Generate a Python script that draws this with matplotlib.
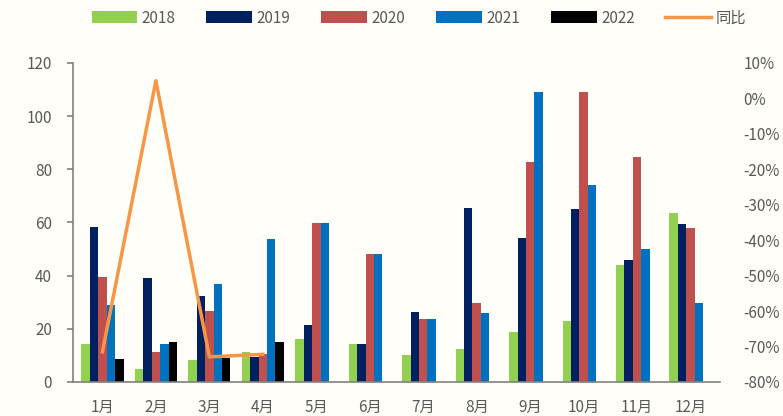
import matplotlib
matplotlib.use("Agg")
import matplotlib.pyplot as plt
import numpy as np

plt.rcParams['font.family'] = ['Noto Sans CJK SC', 'DejaVu Sans']

months = ['1月', '2月', '3月', '4月', '5月', '6月', '7月', '8月', '9月', '10月', '11月', '12月']
v2018 = [14.3, 4.9, 8.3, 11.4, 16.0, 14.2, 10.0, 12.3, 18.8, 23.0, 43.9, 63.6]
v2019 = [58.4, 39.2, 32.4, 9.4, 21.3, 14.2, 26.4, 65.6, 54.2, 65.1, 45.9, 59.4]
v2020 = [39.6, 11.4, 26.8, 10.5, 59.7, 48.0, 23.8, 29.7, 82.8, 109.0, 84.6, 57.8]
v2021 = [29.0, 14.3, 36.7, 53.8, 59.7, 48.0, 23.8, 26.0, 109.0, 74.0, 49.9, 29.6]
v2022 = [8.6, 15.0, 9.0, 15.0, None, None, None, None, None, None, None, None]
yoy = [-71.5, 5.0, -72.9, -72.2]  # percent, months 1-4

series = [('2018', v2018, '#92D050'), ('2019', v2019, '#002060'),
          ('2020', v2020, '#C0504D'), ('2021', v2021, '#0070C0'),
          ('2022', v2022, '#000000')]

bg = '#FFFEF8'
txt = '#595959'
fs = 11
fig = plt.figure(figsize=(7.83, 4.16), dpi=100, facecolor=bg)
ax = fig.add_axes([73/783, 1-382/416, 647/783, 319/416], facecolor=bg)
x = np.arange(len(months))
w = 0.158
handles = []
for i, (name, vals, col) in enumerate(series):
    vv = np.array([np.nan if v is None else v for v in vals], dtype=float)
    h = ax.bar(x + (i - 2) * w, vv, width=w, color=col, label=name, zorder=2)
    handles.append(h)

ax.set_xlim(-0.55, 11.55)
ax.set_ylim(0, 120)
ax.set_yticks(np.arange(0, 121, 20))
ax.set_xticks(x)
ax.set_xticklabels(months)
for s in ['top', 'right']:
    ax.spines[s].set_visible(False)
ax.spines['left'].set_color('#808080')
ax.spines['bottom'].set_color('#808080')
ax.spines['left'].set_linewidth(1.2)
ax.spines['bottom'].set_linewidth(1.2)
ax.tick_params(axis='y', colors=txt, labelsize=fs, length=4, width=1.2,
               color='#808080', direction='out', pad=11)
ax.tick_params(axis='x', colors=txt, labelsize=fs, length=0, pad=12)

ax2 = ax.twinx()
ax2.set_ylim(-80, 10)
ax2.set_yticks(np.arange(-80, 11, 10))
ax2.set_yticklabels([f'{t}%' for t in range(-80, 11, 10)])
for s in ax2.spines.values():
    s.set_visible(False)
ax2.tick_params(axis='y', colors=txt, labelsize=fs, length=0, pad=17)
ln, = ax2.plot(x[:len(yoy)], yoy, color='#F79646', lw=2.5, label='同比', zorder=3)

fig.legend(handles + [ln], [s[0] for s in series] + ['同比'], loc='upper center',
           bbox_to_anchor=(0.535, 1.01), ncol=6, frameon=False, fontsize=fs,
           handlelength=3.0, handleheight=0.8, columnspacing=2.0, handletextpad=0.3,
           labelcolor=txt)

fig.savefig('out.png', dpi=100, facecolor=bg)
